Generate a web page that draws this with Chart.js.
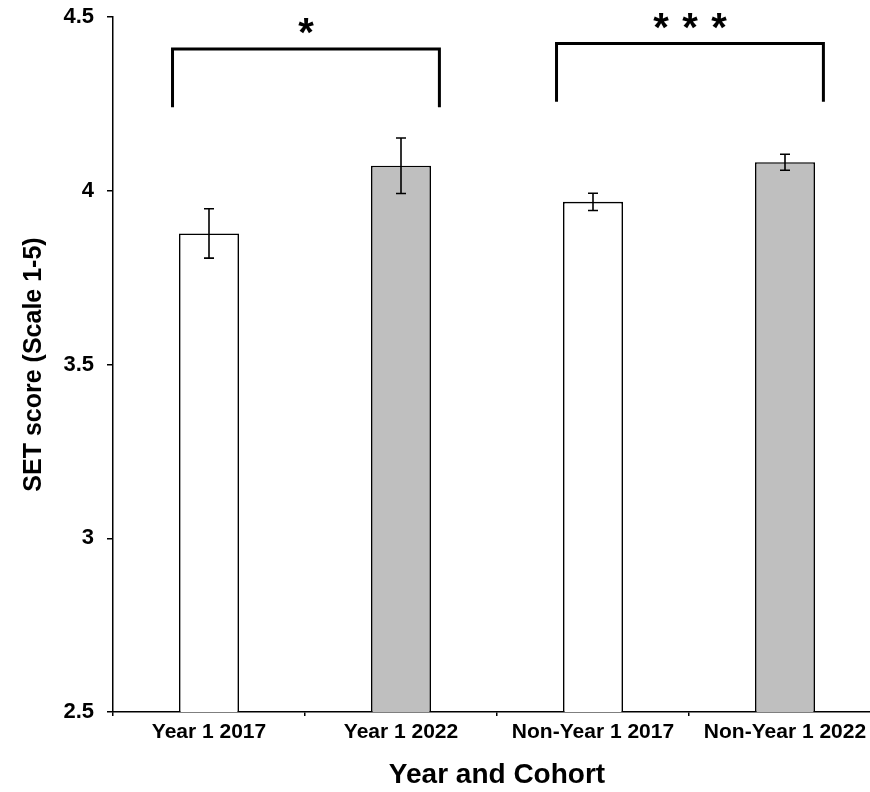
<!DOCTYPE html>
<html>
<head>
<meta charset="utf-8">
<script src="https://cdn.jsdelivr.net/npm/chart.js@4/dist/chart.umd.min.js"></script>
<style>
  html, body { margin: 0; padding: 0; background: #fff; overflow: hidden; }
  #wrap { width: 882px; height: 792px; }
</style>
</head>
<body>
<div id="wrap"><canvas id="chart" width="882" height="792"></canvas></div>
<script>
const categories = ['Year 1 2017', 'Year 1 2022', 'Non-Year 1 2017', 'Non-Year 1 2022'];
const scores = [3.877, 4.072, 3.968, 4.082];
const errors = [0.071, 0.080, 0.025, 0.023];
const barColors = ['#ffffff', '#bfbfbf', '#ffffff', '#bfbfbf'];
const yTicks = [2.5, 3, 3.5, 4, 4.5];

// significance brackets: category span, bracket top / leg ends in score units
const brackets = [
    { from: 0, to: 1, top: 4.408, leg: 4.240, label: '*', labelY: 4.471 },
    { from: 2, to: 3, top: 4.424, leg: 4.256, label: '***', labelY: 4.486 }
];

const FONT = '"Liberation Sans", Arial, sans-serif';

const errorBars = {
    id: 'errorBars',
    afterDatasetsDraw(chart) {
        const ctx = chart.ctx;
        const ys = chart.scales.y;
        const bars = chart.getDatasetMeta(0).data;
        ctx.save();
        ctx.strokeStyle = '#000';
        ctx.lineWidth = 1.6;
        bars.forEach((bar, i) => {
            const x = bar.x;
            const hi = ys.getPixelForValue(scores[i] + errors[i]);
            const lo = ys.getPixelForValue(scores[i] - errors[i]);
            ctx.beginPath();
            ctx.moveTo(x, hi); ctx.lineTo(x, lo);
            ctx.moveTo(x - 5, hi); ctx.lineTo(x + 5, hi);
            ctx.moveTo(x - 5, lo); ctx.lineTo(x + 5, lo);
            ctx.stroke();
        });
        ctx.restore();
    }
};

const sigBrackets = {
    id: 'sigBrackets',
    afterDraw(chart) {
        const ctx = chart.ctx;
        const xs = chart.scales.x;
        const ys = chart.scales.y;
        const step = xs.width / categories.length;
        ctx.save();
        ctx.strokeStyle = '#000';
        ctx.lineWidth = 3;
        ctx.lineCap = 'butt';
        ctx.lineJoin = 'miter';
        brackets.forEach(b => {
            const x0 = xs.getPixelForValue(b.from) - 0.19 * step;
            const x1 = xs.getPixelForValue(b.to) + 0.20 * step;
            const yt = ys.getPixelForValue(b.top);
            const yl = ys.getPixelForValue(b.leg);
            ctx.beginPath();
            ctx.moveTo(x0, yl); ctx.lineTo(x0, yt); ctx.lineTo(x1, yt); ctx.lineTo(x1, yl);
            ctx.stroke();

            const cx = (x0 + x1) / 2;
            const cy = ys.getPixelForValue(b.labelY);
            const size = 40;
            ctx.fillStyle = '#000';
            ctx.font = 'bold ' + size + 'px ' + FONT;
            ctx.textAlign = 'center';
            ctx.textBaseline = 'alphabetic';
            const n = b.label.length;
            for (let k = 0; k < n; k++) {
                const sx = cx + (k - (n - 1) / 2) * 29;
                ctx.fillText('*', sx, cy + 0.47 * size);
            }
        });
        ctx.restore();
    }
};

new Chart(document.getElementById('chart'), {
    type: 'bar',
    data: {
        labels: categories,
        datasets: [{
            data: scores,
            backgroundColor: barColors,
            borderColor: '#000',
            borderWidth: 1.6,
            barPercentage: 0.3125,
            categoryPercentage: 1
        }]
    },
    options: {
        responsive: false,
        animation: false,
        devicePixelRatio: 1,
        layout: { padding: { top: 17, right: 1, bottom: 0, left: 0 } },
        plugins: {
            legend: { display: false },
            tooltip: { enabled: false }
        },
        scales: {
            x: {
                afterFit: s => { s.height = 80; s.paddingLeft = 0; s.paddingRight = 0; },
                grid: {
                    offset: true,
                    drawOnChartArea: false,
                    drawTicks: true,
                    tickLength: 4,
                    color: '#000',
                    lineWidth: 1.5
                },
                border: { display: true, color: '#000', width: 1.5 },
                ticks: {
                    color: '#000',
                    padding: 4,
                    maxRotation: 0,
                    autoSkip: false,
                    font: { family: FONT, size: 21, weight: 'bold' }
                },
                title: {
                    display: true,
                    text: 'Year and Cohort',
                    color: '#000',
                    padding: { top: 0, bottom: 0 },
                    font: { family: FONT, size: 28, weight: 'bold' }
                }
            },
            y: {
                min: 2.5,
                max: 4.5,
                afterFit: s => { s.width = 113; s.paddingTop = 0; s.paddingBottom = 0; },
                afterBuildTicks: s => { s.ticks = yTicks.map(v => ({ value: v })); },
                grid: {
                    drawOnChartArea: false,
                    drawTicks: true,
                    tickLength: 6,
                    color: '#000',
                    lineWidth: 1.5
                },
                border: { display: true, color: '#000', width: 1.5 },
                ticks: {
                    color: '#000',
                    padding: 13,
                    font: { family: FONT, size: 22, weight: 'bold' },
                    callback: v => String(v)
                },
                title: {
                    display: true,
                    text: 'SET score (Scale 1-5)',
                    color: '#000',
                    padding: { top: 19, bottom: 0 },
                    font: { family: FONT, size: 25, weight: 'bold' }
                }
            }
        }
    },
    plugins: [errorBars, sigBrackets]
});
</script>
</body>
</html>
